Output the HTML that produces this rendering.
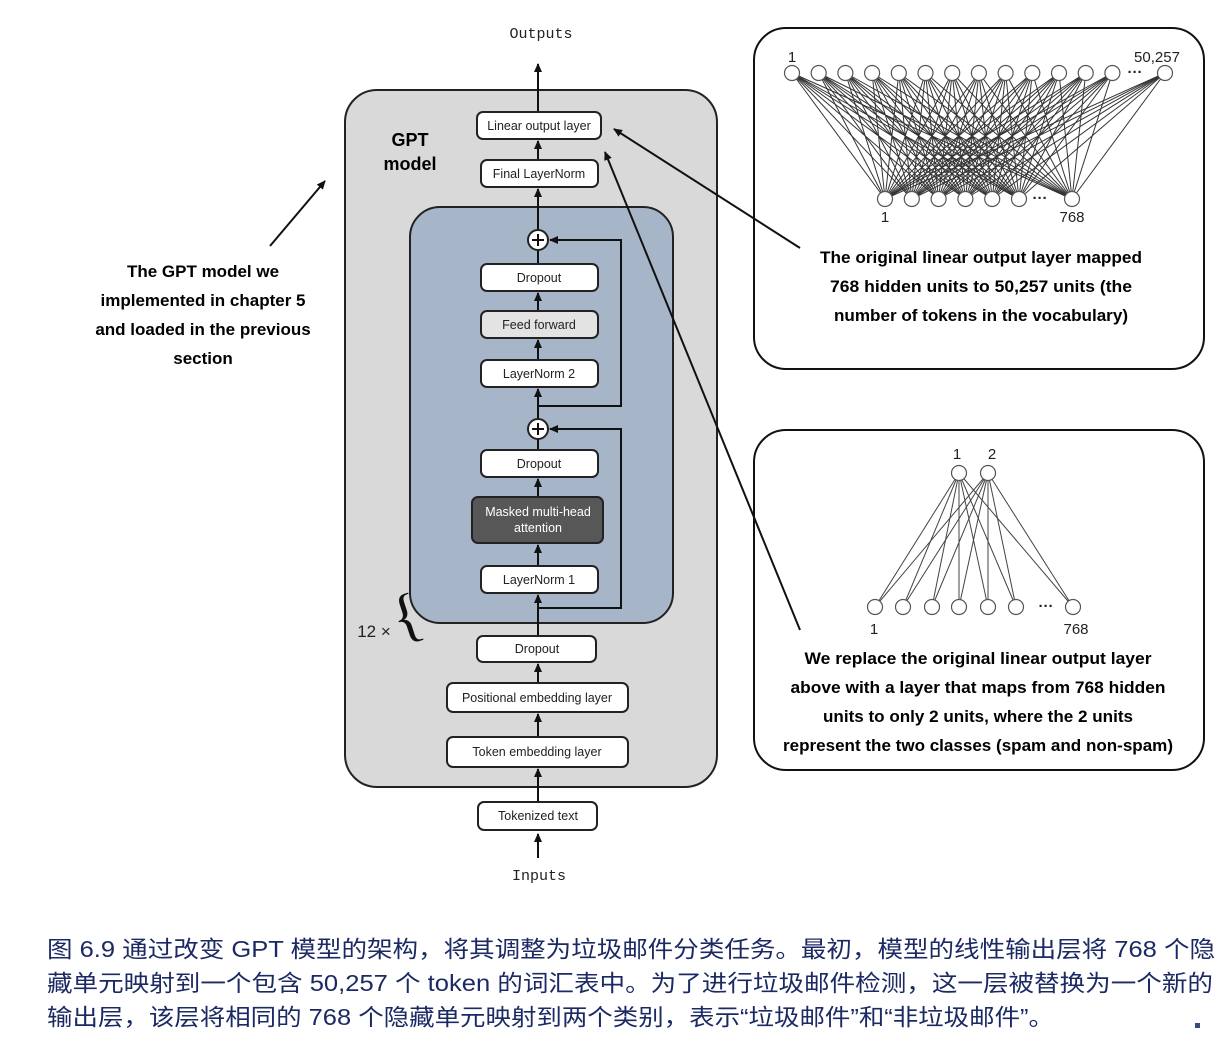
<!DOCTYPE html>
<html><head><meta charset="utf-8"><style>
html,body{margin:0;padding:0;background:#fff;}
svg{display:block;}
.b{font-family:"Liberation Sans",sans-serif;font-size:12.5px;fill:#222;text-anchor:middle;}
.m{font-family:"Liberation Mono",monospace;font-size:15px;fill:#222;text-anchor:middle;}
.a{font-family:"Liberation Sans",sans-serif;font-weight:bold;font-size:17px;fill:#000;text-anchor:middle;}
.n{font-family:"Liberation Sans",sans-serif;font-size:15px;fill:#222;text-anchor:middle;}
.c{font-family:"Liberation Sans","Noto Sans CJK SC",sans-serif;font-size:23px;fill:#1c2a64;}
</style></head><body>
<svg id="s" width="1225" height="1046" viewBox="0 0 1225 1046" xmlns="http://www.w3.org/2000/svg">
<defs><marker id="ar" markerWidth="10" markerHeight="10" refX="8" refY="5" orient="auto" markerUnits="userSpaceOnUse"><path d="M0,1 L9,5 L0,9 z" fill="#111"/></marker></defs>
<rect width="1225" height="1046" fill="#fff"/>
<rect x="345" y="90" width="372" height="697" rx="32" fill="#d9d9d9" stroke="#222" stroke-width="2"/>
<text x="410" y="146" class="a" style="font-size:18px">GPT</text>
<text x="410" y="170" class="a" style="font-size:18px">model</text>
<rect x="410" y="207" width="263" height="416" rx="30" fill="#a7b5c8" stroke="#222" stroke-width="2"/>
<g stroke="#111" stroke-width="2" fill="none">
<line x1="538" y1="112" x2="538" y2="64" marker-end="url(#ar)"/>
<line x1="538" y1="160" x2="538" y2="141" marker-end="url(#ar)"/>
<line x1="538" y1="230" x2="538" y2="189" marker-end="url(#ar)"/>
<line x1="538" y1="264" x2="538" y2="250"/>
<line x1="538" y1="311" x2="538" y2="293" marker-end="url(#ar)"/>
<line x1="538" y1="360" x2="538" y2="340" marker-end="url(#ar)"/>
<line x1="538" y1="419" x2="538" y2="389" marker-end="url(#ar)"/>
<line x1="538" y1="450" x2="538" y2="439"/>
<line x1="538" y1="497" x2="538" y2="479" marker-end="url(#ar)"/>
<line x1="538" y1="566" x2="538" y2="545" marker-end="url(#ar)"/>
<line x1="538" y1="636" x2="538" y2="595" marker-end="url(#ar)"/>
<line x1="538" y1="683" x2="538" y2="664" marker-end="url(#ar)"/>
<line x1="538" y1="737" x2="538" y2="714" marker-end="url(#ar)"/>
<line x1="538" y1="802" x2="538" y2="769" marker-end="url(#ar)"/>
<line x1="538" y1="858" x2="538" y2="834" marker-end="url(#ar)"/>
<polyline points="538,406 621,406 621,240 550,240" marker-end="url(#ar)"/>
<polyline points="538,608 621,608 621,429 550,429" marker-end="url(#ar)"/>
</g>
<g fill="#fff" stroke="#222" stroke-width="2">
<circle cx="538" cy="240" r="10"/><circle cx="538" cy="429" r="10"/>
</g>
<g stroke="#111" stroke-width="2"><line x1="532" y1="240" x2="544" y2="240"/><line x1="538" y1="234" x2="538" y2="246"/><line x1="532" y1="429" x2="544" y2="429"/><line x1="538" y1="423" x2="538" y2="435"/></g>
<g stroke="#222" stroke-width="2" fill="#fff">
<rect x="477" y="112" width="124" height="27" rx="6"/>
<rect x="481" y="160" width="117" height="27" rx="6"/>
<rect x="481" y="264" width="117" height="27" rx="6"/>
<rect x="481" y="311" width="117" height="27" rx="6" fill="#e3e3e3"/>
<rect x="481" y="360" width="117" height="27" rx="6"/>
<rect x="481" y="450" width="117" height="27" rx="6"/>
<rect x="472" y="497" width="131" height="46" rx="6" fill="#575757"/>
<rect x="481" y="566" width="117" height="27" rx="6"/>
<rect x="477" y="636" width="119" height="26" rx="6"/>
<rect x="447" y="683" width="181" height="29" rx="6"/>
<rect x="447" y="737" width="181" height="30" rx="6"/>
<rect x="478" y="802" width="119" height="28" rx="6"/>
</g>
<text x="539" y="130" class="b">Linear output layer</text>
<text x="539" y="178" class="b">Final LayerNorm</text>
<text x="539" y="282" class="b">Dropout</text>
<text x="539" y="329" class="b">Feed forward</text>
<text x="539" y="378" class="b">LayerNorm 2</text>
<text x="539" y="468" class="b">Dropout</text>
<text x="538" y="516" class="b" style="fill:#fff">Masked multi-head</text>
<text x="538" y="532" class="b" style="fill:#fff">attention</text>
<text x="539" y="584" class="b">LayerNorm 1</text>
<text x="537" y="653" class="b">Dropout</text>
<text x="537" y="702" class="b">Positional embedding layer</text>
<text x="537" y="756" class="b">Token embedding layer</text>
<text x="538" y="820" class="b">Tokenized text</text>
<text x="541" y="38" class="m">Outputs</text>
<text x="539" y="880" class="m">Inputs</text>
<text x="374" y="637" class="n" style="font-size:17px">12 ×</text>
<text x="406" y="636" style="font-family:'Liberation Serif',serif;font-size:60px;fill:#111" text-anchor="middle" transform="rotate(-18 406 615)">{</text>
<line x1="270" y1="246" x2="325" y2="181" stroke="#111" stroke-width="2" marker-end="url(#ar)"/>
<text x="203" y="277" class="a">The GPT model we</text>
<text x="203" y="306" class="a">implemented in chapter 5</text>
<text x="203" y="335" class="a">and loaded in the previous</text>
<text x="203" y="364" class="a">section</text>
<rect x="754" y="28" width="450" height="341" rx="32" fill="#fff" stroke="#111" stroke-width="2"/>
<rect x="754" y="430" width="450" height="340" rx="32" fill="#fff" stroke="#111" stroke-width="2"/>
<g id="net1" stroke="#333" stroke-width="1"></g>
<g id="net2" stroke="#444" stroke-width="1"></g>
<g id="nodes" fill="#fff" stroke="#555" stroke-width="1.2"></g>
<text x="792" y="62" class="n">1</text>
<text x="1157" y="62" class="n">50,257</text>
<text x="1135" y="77" class="n" style="font-weight:bold">···</text>
<text x="885" y="222" class="n">1</text>
<text x="1072" y="222" class="n">768</text>
<text x="1040" y="203" class="n" style="font-weight:bold">···</text>
<text x="957" y="459" class="n">1</text>
<text x="992" y="459" class="n">2</text>
<text x="874" y="634" class="n">1</text>
<text x="1076" y="634" class="n">768</text>
<text x="1046" y="611" class="n" style="font-weight:bold">···</text>
<text x="981" y="263" class="a" textLength="322" lengthAdjust="spacingAndGlyphs">The original linear output layer mapped</text>
<text x="981" y="292" class="a" textLength="302" lengthAdjust="spacingAndGlyphs">768 hidden units to 50,257 units (the</text>
<text x="981" y="321" class="a" textLength="294" lengthAdjust="spacingAndGlyphs">number of tokens in the vocabulary)</text>
<text x="978" y="664" class="a" textLength="347" lengthAdjust="spacingAndGlyphs">We replace the original linear output layer</text>
<text x="978" y="693" class="a" textLength="375" lengthAdjust="spacingAndGlyphs">above with a layer that maps from 768 hidden</text>
<text x="978" y="722" class="a" textLength="310" lengthAdjust="spacingAndGlyphs">units to only 2 units, where the 2 units</text>
<text x="978" y="751" class="a" textLength="390" lengthAdjust="spacingAndGlyphs">represent the two classes (spam and non-spam)</text>
<line x1="800" y1="248" x2="614" y2="129" stroke="#111" stroke-width="2" marker-end="url(#ar)"/>
<line x1="800" y1="630" x2="605" y2="152" stroke="#111" stroke-width="2" marker-end="url(#ar)"/>
<text x="47" y="957" class="c" textLength="1168" lengthAdjust="spacingAndGlyphs">图 6.9 通过改变 GPT 模型的架构，将其调整为垃圾邮件分类任务。最初，模型的线性输出层将 768 个隐</text>
<text x="47" y="991" class="c" textLength="1166" lengthAdjust="spacingAndGlyphs">藏单元映射到一个包含 50,257 个 token 的词汇表中。为了进行垃圾邮件检测，这一层被替换为一个新的</text>
<text x="47" y="1025" class="c" textLength="1007" lengthAdjust="spacingAndGlyphs">输出层，该层将相同的 768 个隐藏单元映射到两个类别，表示“垃圾邮件”和“非垃圾邮件”。</text>
<rect x="1195" y="1023" width="5" height="5" fill="#3a4a7a"/>
</svg>
<script>
var NS="http://www.w3.org/2000/svg";
function L(g,x1,y1,x2,y2){var l=document.createElementNS(NS,"line");l.setAttribute("x1",x1);l.setAttribute("y1",y1);l.setAttribute("x2",x2);l.setAttribute("y2",y2);g.appendChild(l);}
function C(g,x,y){var c=document.createElementNS(NS,"circle");c.setAttribute("cx",x);c.setAttribute("cy",y);c.setAttribute("r",7.5);g.appendChild(c);}
var top1=[],bot1=[];for(var i=0;i<13;i++)top1.push(792+i*26.7);top1.push(1165);
for(var i=0;i<6;i++)bot1.push(885+i*26.8);bot1.push(1072);
var g1=document.getElementById("net1"),g2=document.getElementById("net2"),gn=document.getElementById("nodes");
top1.forEach(function(a){bot1.forEach(function(b){L(g1,a,73,b,199);});});
var top2=[959,988],bot2=[875,903,932,959,988,1016,1073];
top2.forEach(function(a){bot2.forEach(function(b){L(g2,a,473,b,607);});});
top1.forEach(function(a){C(gn,a,73);});bot1.forEach(function(a){C(gn,a,199);});
top2.forEach(function(a){C(gn,a,473);});bot2.forEach(function(a){C(gn,a,607);});
</script>
</body></html>
